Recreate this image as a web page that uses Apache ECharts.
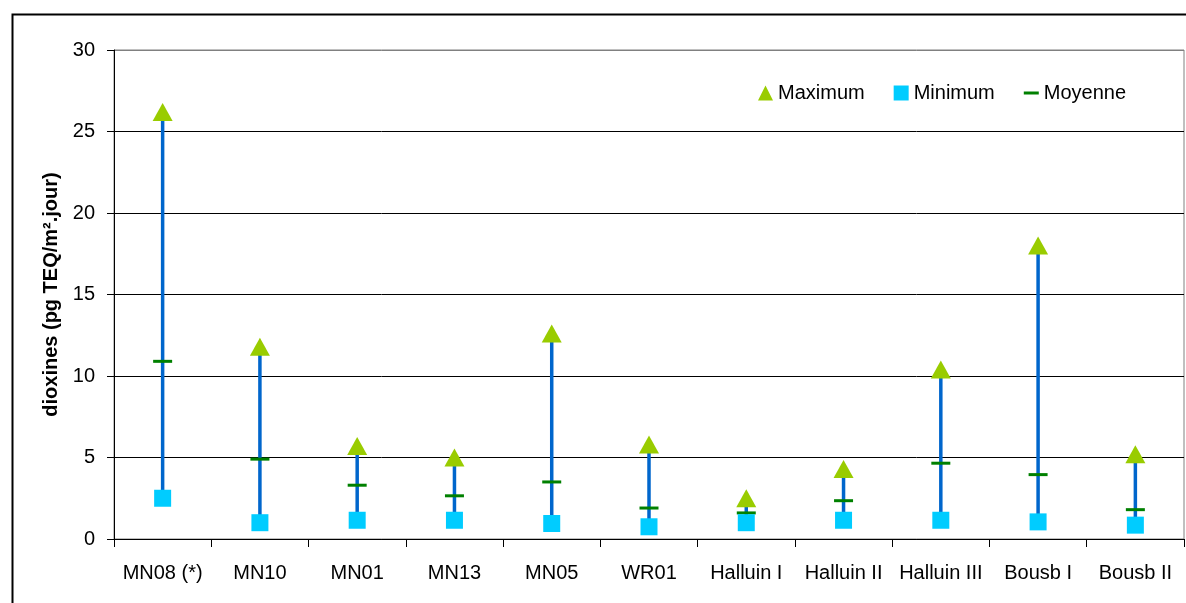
<!DOCTYPE html>
<html>
<head>
<meta charset="utf-8">
<script src="https://cdn.jsdelivr.net/npm/echarts@6/dist/echarts.min.js"></script>
<style>
html,body{margin:0;padding:0;background:#fff;}
#chart{width:1186px;height:603px;}
</style>
</head>
<body>
<div id="chart"></div>
<script>
const categories = ['MN08 (*)','MN10','MN01','MN13','MN05','WR01','Halluin I','Halluin II','Halluin III','Bousb I','Bousb II'];
const maxValues = [26.2, 11.8, 5.7, 5.0, 12.6, 5.8, 2.5, 4.3, 10.4, 18.0, 5.2];
const minValues = [2.5, 1.0, 1.15, 1.15, 0.95, 0.75, 1.0, 1.15, 1.15, 1.05, 0.85];
const meanValues = [10.9, 4.9, 3.3, 2.65, 3.5, 1.9, 1.6, 2.35, 4.65, 3.95, 1.8];
const yTicks = [0, 5, 10, 15, 20, 25, 30];

const FONT = '"Liberation Sans", Arial, sans-serif';
const chart = echarts.init(document.getElementById('chart'), null, {renderer: 'canvas'});

const rangeData = categories.map((c, i) => [i, minValues[i], maxValues[i]]);

chart.setOption({
  animation: false,
  backgroundColor: '#ffffff',
  textStyle: {fontFamily: FONT},
  graphic: [{
    type: 'rect',
    left: 10, top: 12,
    shape: {x: 0, y: 0, width: 1300, height: 800},
    style: {fill: 'none', stroke: '#000000', lineWidth: 2},
    z: -10, silent: true
  }],
  grid: {
    left: 114, right: 2, top: 50, bottom: 64,
    show: true, borderColor: '#808080', borderWidth: 1,
    backgroundColor: 'transparent'
  },
  legend: {
    left: 753, top: 78,
    itemGap: 29,
    itemWidth: 15, itemHeight: 15,
    textStyle: {fontFamily: FONT, fontSize: 20, color: '#000000'},
    data: [
      {name: 'Maximum', icon: 'triangle', itemStyle: {color: '#99CC00'}},
      {name: 'Minimum', icon: 'rect', itemStyle: {color: '#00CCFF'}},
      {name: 'Moyenne', icon: 'path://M0,0 L15,0 L15,3 L0,3 Z', itemStyle: {color: '#008000'}}
    ]
  },
  xAxis: {
    type: 'category',
    data: categories,
    boundaryGap: true,
    axisLine: {show: true, lineStyle: {color: '#000000', width: 1}},
    axisTick: {show: true, length: 8, lineStyle: {color: '#000000', width: 1}},
    axisLabel: {fontFamily: FONT, fontSize: 20, color: '#000000', margin: 24, interval: 0},
    splitLine: {show: false}
  },
  yAxis: {
    type: 'value',
    min: yTicks[0], max: yTicks[yTicks.length - 1], interval: 5,
    name: 'dioxines (pg TEQ/m².jour)',
    nameLocation: 'middle',
    nameRotate: 90,
    nameGap: 53,
    nameTextStyle: {fontFamily: FONT, fontSize: 20, fontWeight: 'bold', color: '#000000'},
    axisLine: {show: true, lineStyle: {color: '#000000', width: 1}},
    axisTick: {show: true, length: 7, lineStyle: {color: '#000000', width: 1}},
    axisLabel: {fontFamily: FONT, fontSize: 20, color: '#000000', margin: 19},
    splitLine: {show: true, lineStyle: {color: ['#000000','#000000','#000000','#000000','#000000','#000000','#808080'], width: 1}}
  },
  series: [
    {
      type: 'custom',
      name: 'range',
      data: rangeData,
      z: 2,
      renderItem: function (params, api) {
        const p1 = api.coord([api.value(0), api.value(1)]);
        const p2 = api.coord([api.value(0), api.value(2)]);
        return {
          type: 'line',
          shape: {x1: p1[0], y1: p1[1], x2: p2[0], y2: p2[1]},
          style: {stroke: '#0066CC', lineWidth: 3.5}
        };
      }
    },
    {
      type: 'scatter', name: 'Moyenne', data: meanValues,
      symbol: 'rect', symbolSize: [19, 3],
      itemStyle: {color: '#008000', opacity: 1}, z: 3
    },
    {
      type: 'scatter', name: 'Maximum', data: maxValues,
      symbol: 'triangle', symbolSize: [20, 18],
      itemStyle: {color: '#99CC00', opacity: 1}, z: 4
    },
    {
      type: 'scatter', name: 'Minimum', data: minValues,
      symbol: 'rect', symbolSize: [17, 17],
      itemStyle: {color: '#00CCFF', opacity: 1}, z: 4
    }
  ]
});
</script>
</body>
</html>
